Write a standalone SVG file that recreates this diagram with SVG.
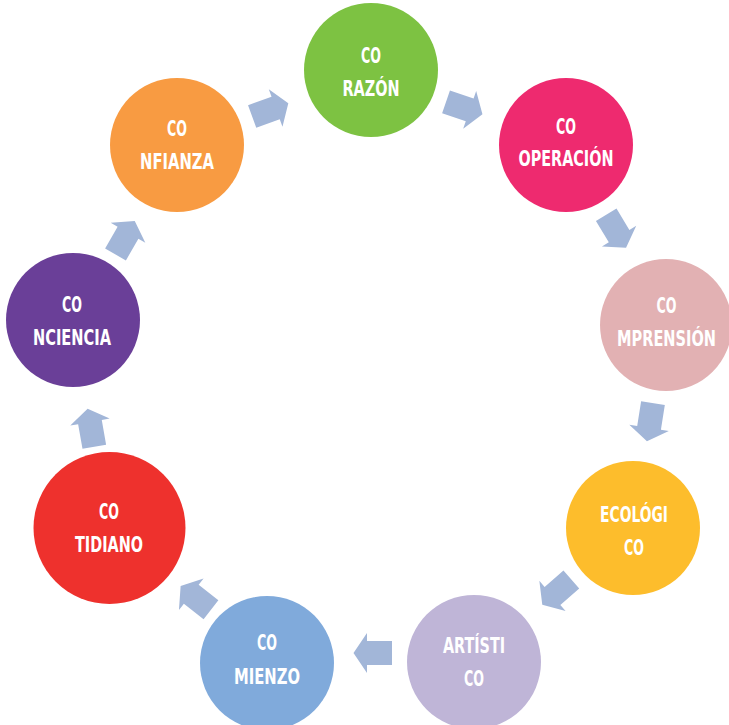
<svg xmlns="http://www.w3.org/2000/svg" width="729" height="725" viewBox="0 0 729 725">
<style>
.t{font-family:"DejaVu Sans Condensed","Liberation Sans Narrow","Liberation Sans",sans-serif;font-stretch:condensed;font-weight:bold;font-size:21px;fill:#fff;text-anchor:middle}
.a{fill:#A2B6D8}
</style>
<defs>
<polygon id="arr" points="-19,-12 6,-12 6,-20 19.5,0 6,20 6,12 -19,12"/>
</defs>
<rect width="729" height="725" fill="#fff"/>
<g id="connectors">
<use href="#arr" class="a" transform="translate(270,110) rotate(-20)"/>
<use href="#arr" class="a" transform="translate(464,108) rotate(19)"/>
<use href="#arr" class="a" transform="translate(616,231) rotate(59)"/>
<use href="#arr" class="a" transform="translate(650,422) rotate(99)"/>
<use href="#arr" class="a" transform="translate(557,592) rotate(139)"/>
<use href="#arr" class="a" transform="translate(373,653) rotate(180)"/>
<use href="#arr" class="a" transform="translate(196,598) rotate(218)"/>
<use href="#arr" class="a" transform="translate(91,428) rotate(260)"/>
<use href="#arr" class="a" transform="translate(125,238) rotate(300)"/>
</g>
<g id="corazon"><circle cx="371" cy="70" r="67" fill="#7DC242"/><text class="t" x="371" y="63" textLength="20" lengthAdjust="spacingAndGlyphs">CO</text><text class="t" x="371" y="96" textLength="57" lengthAdjust="spacingAndGlyphs">RAZÓN</text></g>
<g id="cooperacion"><circle cx="566" cy="145" r="67" fill="#EE2A6F"/><text class="t" x="566" y="134" textLength="20" lengthAdjust="spacingAndGlyphs">CO</text><text class="t" x="566" y="166" textLength="95" lengthAdjust="spacingAndGlyphs">OPERACIÓN</text></g>
<g id="comprension"><circle cx="666" cy="325" r="66" fill="#E2B1B3"/><text class="t" x="666.5" y="313" textLength="20" lengthAdjust="spacingAndGlyphs">CO</text><text class="t" x="666.5" y="346" textLength="99" lengthAdjust="spacingAndGlyphs">MPRENSIÓN</text></g>
<g id="ecologico"><circle cx="633" cy="528" r="67" fill="#FDBD2C"/><text class="t" x="634" y="522" textLength="68" lengthAdjust="spacingAndGlyphs">ECOLÓGI</text><text class="t" x="634" y="555" textLength="20" lengthAdjust="spacingAndGlyphs">CO</text></g>
<g id="artistico"><circle cx="474" cy="662" r="67" fill="#BFB5D7"/><text class="t" x="474" y="653" textLength="62" lengthAdjust="spacingAndGlyphs">ARTÍSTI</text><text class="t" x="474" y="686" textLength="20" lengthAdjust="spacingAndGlyphs">CO</text></g>
<g id="comienzo"><circle cx="267" cy="663" r="67" fill="#80AADB"/><text class="t" x="267" y="650" textLength="20" lengthAdjust="spacingAndGlyphs">CO</text><text class="t" x="267" y="684" textLength="66" lengthAdjust="spacingAndGlyphs">MIENZO</text></g>
<g id="cotidiano"><circle cx="109.5" cy="528" r="76" fill="#EE312D"/><text class="t" x="109" y="519" textLength="20" lengthAdjust="spacingAndGlyphs">CO</text><text class="t" x="109" y="552" textLength="68" lengthAdjust="spacingAndGlyphs">TIDIANO</text></g>
<g id="conciencia"><circle cx="73" cy="320" r="67" fill="#6A3F98"/><text class="t" x="72" y="312" textLength="20" lengthAdjust="spacingAndGlyphs">CO</text><text class="t" x="72" y="345" textLength="78" lengthAdjust="spacingAndGlyphs">NCIENCIA</text></g>
<g id="confianza"><circle cx="177" cy="145" r="67" fill="#F89B42"/><text class="t" x="177" y="136" textLength="20" lengthAdjust="spacingAndGlyphs">CO</text><text class="t" x="177" y="169" textLength="74" lengthAdjust="spacingAndGlyphs">NFIANZA</text></g>
</svg>
